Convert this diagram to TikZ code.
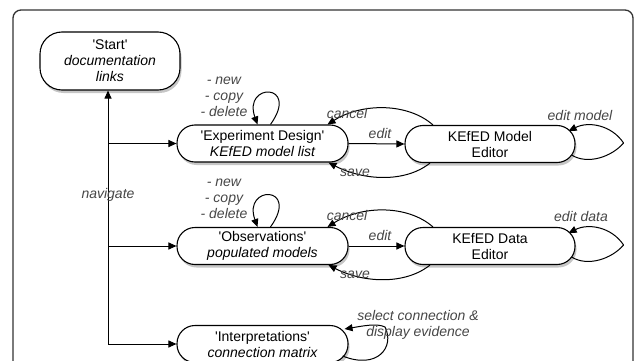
\documentclass[tikz,border=0pt]{standalone}
\usepackage{fontspec}
\setmainfont{Liberation Sans}
\usetikzlibrary{arrows.meta,shadows,calc}
\definecolor{labc}{RGB}{70,70,70}
\newcommand{\qq}{\textquotesingle}
\begin{document}
\begin{tikzpicture}[x=1pt,y=-1pt,
  every node/.style={font=\fontsize{14}{16}\selectfont},
  state/.style={draw=black, line width=1.1pt, fill=white, rounded corners=18pt,
    minimum width=171pt, minimum height=37pt, align=center, inner sep=0pt,
    drop shadow={shadow xshift=1.5pt, shadow yshift=-3pt, opacity=0.45}},
  lab/.style={text=labc, font=\fontsize{14}{16}\selectfont\itshape, align=center, inner sep=0pt},
  arr/.style={line width=1pt, -{Triangle[length=8pt,width=7pt]}},
  ln/.style={line width=1pt}]
\useasboundingbox (0,0) rectangle (634,361);
\begin{scope}
\clip (0,0) rectangle (634,361);
\draw[line width=1.3pt, draw=black!80, rounded corners=8pt] (13,10) rectangle (633,430);

\node[state, minimum width=140pt, minimum height=58pt, rounded corners=22pt] (S) at (110,61)
  {\qq Start\qq\\\itshape documentation\\\itshape links};
\node[state] (ED) at (262.5,143.5) {\qq Experiment Design\qq\\\itshape KEfED model list};
\node[state, minimum width=170pt] (ME) at (490,144) {KEfED Model\\Editor};
\node[state] (OB) at (262.5,246) {\qq Observations\qq\\\itshape populated models};
\node[state, minimum width=170pt] (DE) at (490,246) {KEfED Data\\Editor};
\node[state] (IN) at (262.5,344) {\qq Interpretations\qq\\\itshape connection matrix};

% navigate
\coordinate (nb) at (108,344);
\draw[arr] (nb) -- (nb |- S.south);
\draw[arr] (nb |- ED.west) -- (ED.west);
\draw[arr] (nb |- OB.west) -- (OB.west);
\draw[arr] (nb) -- (IN.west);
\node[lab] (nav) at (108,195) {navigate};

% Experiment design
\draw[arr] ($(ED.north)+(8,0)$) .. controls +(30,-42) and +(-15,-42) .. ($(ED.north)+(-5,0)$);
\node[lab] (edops) at (224,97) {- new\\- copy\\- delete};
\draw[arr] (ED.east) -- (ME.west);
\node[lab] (edit1) at (380,133) {edit};
\draw[arr] ($(ME.north)+(-57,0)$) .. controls +(-25,-22) and +(35,-22) .. ($(ED.north)+(65,0)$);
\node[lab] (canc1) at (347,113) {cancel};
\draw[arr] ($(ME.south)+(-60,0)$) .. controls +(-25,20) and +(35,18) .. ($(ED.south)+(66,0)$);
\node[lab] (save1) at (355,173) {save};
\coordinate (t1) at ($(ME.east)+(48,-1)$);
\draw[ln] ($(ME.east)+(-4,11)$) .. controls +(16,10) and +(-12,14) .. (t1);
\draw[arr] (t1) .. controls +(-12,-18) and +(20,-10) .. ($(ME.east)+(-7,-13)$);
\node[lab] (em) at (580,115) {edit model};

% Observations
\draw[arr] ($(OB.north)+(8,0)$) .. controls +(30,-42) and +(-15,-42) .. ($(OB.north)+(-5,0)$);
\node[lab] (obops) at (224,199) {- new\\- copy\\- delete};
\draw[arr] (OB.east) -- (DE.west);
\node[lab] (edit2) at (380,235) {edit};
\draw[arr] ($(DE.north)+(-57,0)$) .. controls +(-25,-22) and +(35,-22) .. ($(OB.north)+(65,0)$);
\node[lab] (canc2) at (347,215) {cancel};
\draw[arr] ($(DE.south)+(-60,0)$) .. controls +(-25,20) and +(35,18) .. ($(OB.south)+(66,0)$);
\node[lab] (save2) at (355,275) {save};
\coordinate (t2) at ($(DE.east)+(48,-1)$);
\draw[ln] ($(DE.east)+(-4,11)$) .. controls +(16,10) and +(-12,14) .. (t2);
\draw[arr] (t2) .. controls +(-12,-18) and +(20,-10) .. ($(DE.east)+(-7,-13)$);
\node[lab] (ed) at (581,216) {edit data};

% Interpretations
\draw[arr] ($(IN.east)+(-6,12)$) .. controls +(35,14) and +(10,20) .. (385,327)
  .. controls +(-8,-4) and +(18,-3) .. ($(IN.east)+(-4,-15)$);
\node[lab] (sel) at (418,325) {select connection \&\\display evidence};
\end{scope}
\end{tikzpicture}
\end{document}
